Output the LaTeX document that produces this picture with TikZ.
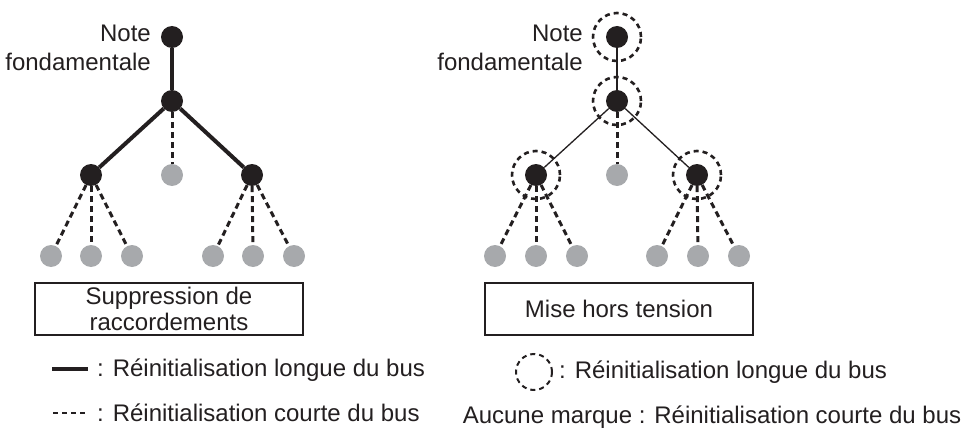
\documentclass[tikz,border=0pt]{standalone}
\usepackage{fontspec}
\setmainfont{Liberation Sans}
\usepackage{xcolor}
\usetikzlibrary{positioning}
\definecolor{nodeblack}{HTML}{231F20}
\definecolor{nodegray}{HTML}{A7A9AC}
\begin{document}
\begin{tikzpicture}[x=1pt,y=-1pt,
  blk/.style={circle,fill=nodeblack,minimum size=22pt,inner sep=0pt},
  gry/.style={circle,fill=nodegray,minimum size=22pt,inner sep=0pt},
  longr/.style={line width=4pt,nodeblack},
  fine/.style={line width=1.3pt,nodeblack},
  shortr/.style={line width=3pt,nodeblack,dash pattern=on 6pt off 4pt},
  ring/.style={circle,draw=nodeblack,line width=2.6pt,dash pattern=on 5pt off 4pt,minimum size=#1,inner sep=0pt},
  ring/.default=48pt,
  lbl/.style={font=\fontsize{24}{29}\selectfont,inner sep=0pt,text=nodeblack},
  capbox/.style={draw=nodeblack,line width=1.2pt,minimum width=268pt,minimum height=52pt,inner sep=0pt,align=center,
    font=\fontsize{24}{26}\selectfont,text=nodeblack}]
\useasboundingbox (0,0) rectangle (963,433);
% left tree: suppression de raccordements
\node[blk] (lroot) at (172,37) {};
\node[blk] (lmid) at (172,101) {};
\node[blk] (lleft) at (91,175) {};
\node[gry] (lcen) at (172,175) {};
\node[blk] (lright) at (252,175) {};
\foreach \x [count=\i] in {51,91,132} \node[gry] (lla\i) at (\x,256) {};
\foreach \x [count=\i] in {213,253,294} \node[gry] (llb\i) at (\x,256) {};
\draw[longr] (lroot) -- (lmid);
\draw[longr] (lmid) -- (lleft);
\draw[longr] (lmid) -- (lright);
\draw[shortr] (lmid) -- (lcen);
\foreach \i in {1,2,3} {
  \draw[shortr] (lleft) -- (lla\i);
  \draw[shortr] (lright) -- (llb\i);
}
\node[lbl,align=right,anchor=north east] (lnote) at (151,25) {Note\\fondamentale};
\node[capbox] (lbox) at (169,309) {Suppression de\\raccordements};
% right tree: mise hors tension
\node[blk] (rroot) at (617,37) {};
\node[blk] (rmid) at (617,101) {};
\node[blk] (rleft) at (536,175) {};
\node[gry] (rcen) at (617,175) {};
\node[blk] (rright) at (697,175) {};
\foreach \x [count=\i] in {495,536,577} \node[gry] (rla\i) at (\x,256) {};
\foreach \x [count=\i] in {657,698,739} \node[gry] (rlb\i) at (\x,256) {};
\draw[fine] (rroot) -- (rmid);
\draw[fine] (rmid) -- (rleft);
\draw[fine] (rmid) -- (rright);
\draw[shortr] (rmid) -- (rcen);
\foreach \i in {1,2,3} {
  \draw[shortr] (rleft) -- (rla\i);
  \draw[shortr] (rright) -- (rlb\i);
}
\foreach \n in {rroot,rmid,rleft,rright} \node[ring] at (\n) {};
\node[lbl,align=right,anchor=north east] (rnote) at (583,25) {Note\\fondamentale};
\node[capbox] (rbox) at (619,309) {Mise hors tension};
% legends
\coordinate (kla) at (52,369);
\coordinate (klb) at (88,369);
\draw[longr,line width=3.5pt] (kla) -- (klb);
\node[lbl,anchor=west] (kltxt) at (97,370) {: Réinitialisation longue du bus};
\coordinate (ksa) at (53,413);
\coordinate (ksb) at (88,413);
\draw[shortr,line width=2pt,dash pattern=on 5pt off 4pt] (ksa) -- (ksb);
\node[lbl,anchor=west] (kstxt) at (97,413) {: Réinitialisation courte du bus};
\node[ring=36pt,line width=2pt] (kring) at (534,372) {};
\node[lbl,anchor=west,right=6pt of kring] (krtxt) {: Réinitialisation longue du bus};
\node[lbl] (kntxt) at (712,417) {Aucune marque : Réinitialisation courte du bus};
\end{tikzpicture}
\end{document}
